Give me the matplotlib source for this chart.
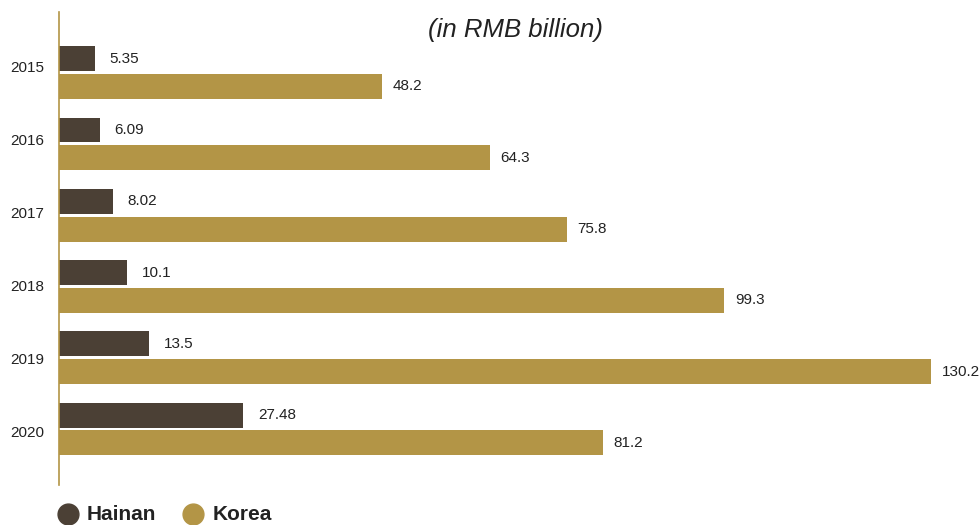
import matplotlib
matplotlib.use("Agg")
import numpy as np
from matplotlib import pyplot as plt
from matplotlib.lines import Line2D

plt.rcParams['font.family'] = ['Liberation Sans', 'DejaVu Sans']

years = ["2015", "2016", "2017", "2018", "2019", "2020"]
hainan = [5.35, 6.09, 8.02, 10.1, 13.5, 27.48]
korea = [48.2, 64.3, 75.8, 99.3, 130.2, 81.2]
hainan_labels = ["5.35", "6.09", "8.02", "10.1", "13.5", "27.48"]
korea_labels = ["48.2", "64.3", "75.8", "99.3", "130.2", "81.2"]

HAINAN_COLOR = "#4b4035"
KOREA_COLOR = "#b39546"
TEXT_COLOR = "#222222"

fig = plt.figure(figsize=(9.8, 5.25), dpi=100)
ax = fig.add_axes([59 / 980, 1 - 485 / 525, 921 / 980, 473 / 525])

bar_h = 0.35
offset = 0.195
pos = np.arange(len(years))

ax.barh(pos - offset, hainan, height=bar_h, color=HAINAN_COLOR)
ax.barh(pos + offset, korea, height=bar_h, color=KOREA_COLOR)

for p, v, lab in zip(pos, hainan, hainan_labels):
    ax.text(v + 2.2, p - offset, lab, va="center", ha="left", fontsize=11, color=TEXT_COLOR)
for p, v, lab in zip(pos, korea, korea_labels):
    ax.text(v + 1.6, p + offset, lab, va="center", ha="left", fontsize=11, color=TEXT_COLOR)

ax.set_xlim(0, 137.5)
ax.set_ylim(5.785, -0.85)
# year labels are spaced a little wider than the bar groups
ax.set_yticks(np.linspace(-0.09, 5.04, len(years)))
ax.set_yticklabels(years, fontsize=11, color=TEXT_COLOR)
ax.tick_params(axis="y", length=0, pad=10.5)
ax.set_xticks([])

# only the left axis line stays, in gold
for side in ["top", "right", "bottom"]:
    ax.spines[side].set_visible(False)
ax.spines["left"].set_color(KOREA_COLOR)
ax.spines["left"].set_linewidth(1.2)

fig.text(515 / 980, 1 - 30 / 525, "(in RMB billion)", ha="center", va="center",
         fontsize=18.5, style="italic", color=TEXT_COLOR)

# legend drawn by hand along the bottom edge
ly = 1 - 514 / 525
for cx, tx, label, color in [(68, 87, "Hainan", HAINAN_COLOR), (193, 213, "Korea", KOREA_COLOR)]:
    fig.add_artist(Line2D([cx / 980], [ly], marker="o", markersize=15, color=color,
                          linestyle="none", transform=fig.transFigure))
    fig.text(tx / 980, ly, label, ha="left", va="center", fontsize=15,
             fontweight="bold", color=TEXT_COLOR)

fig.savefig("out.png", dpi=100)
